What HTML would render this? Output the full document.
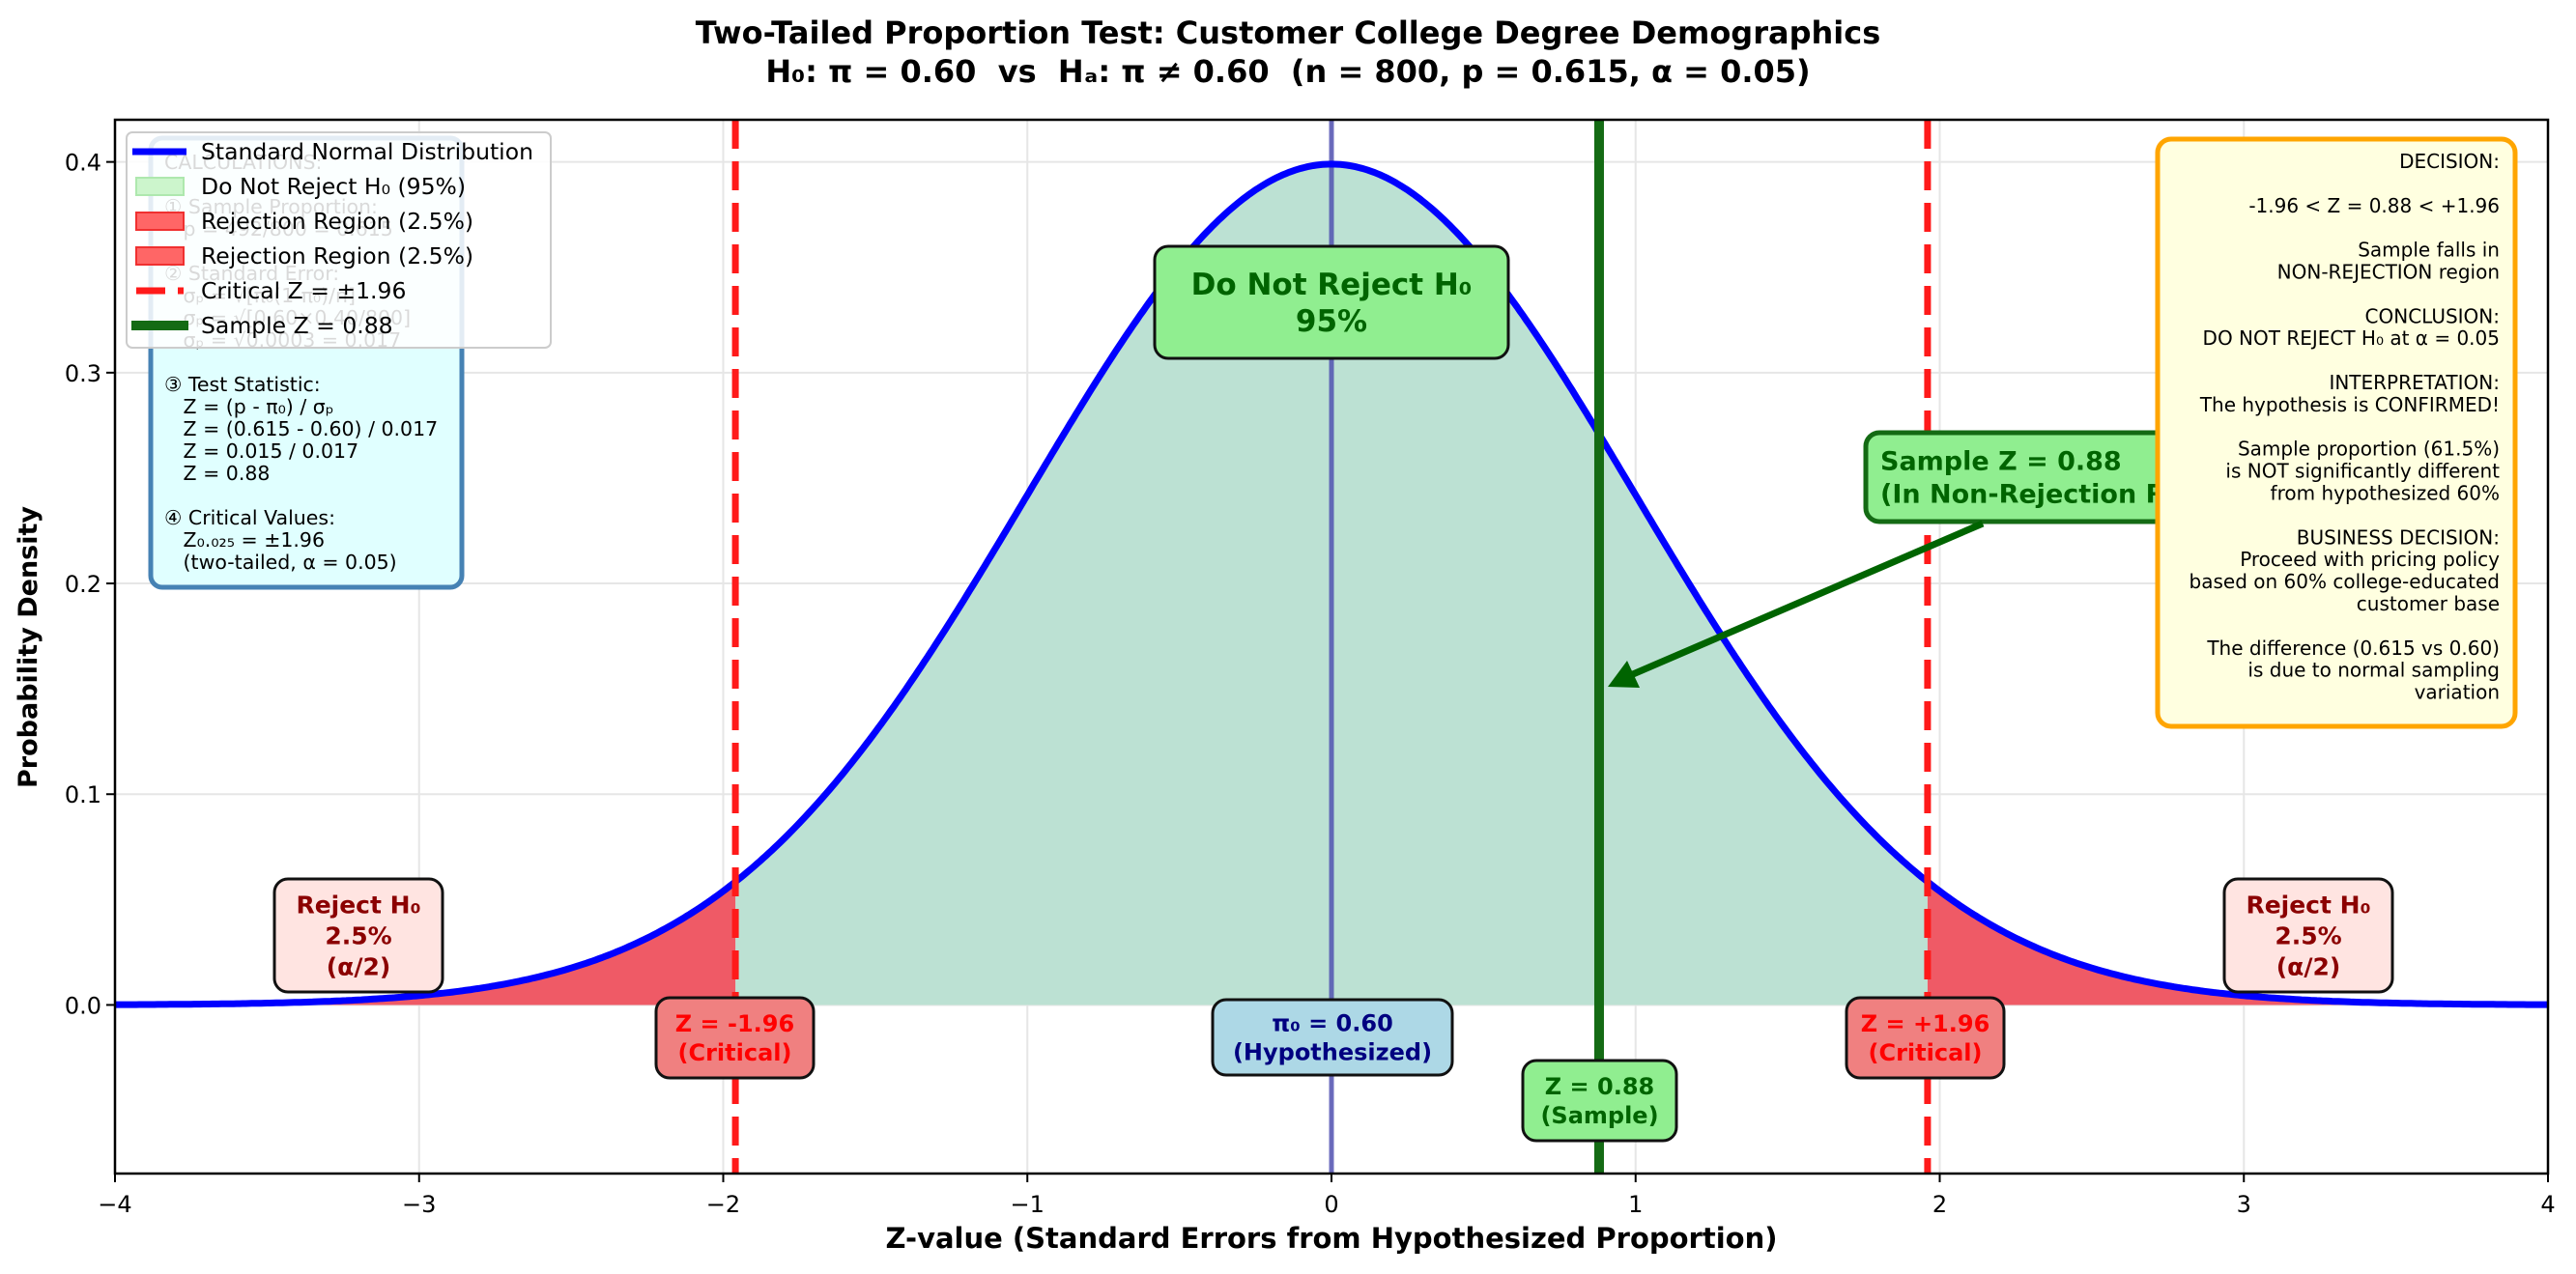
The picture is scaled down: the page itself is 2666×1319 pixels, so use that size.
<!DOCTYPE html>
<html><head><meta charset="utf-8"><style>
html,body{margin:0;padding:0;background:#fff}
svg{display:block}
text{font-family:"DejaVu Sans","Liberation Sans",sans-serif;white-space:pre}
</style></head><body>
<svg id="s" width="2666" height="1319" viewBox="0 0 2666 1319" xmlns="http://www.w3.org/2000/svg" xml:space="preserve">
<rect width="2666" height="1319" fill="#fff"/>
<text x="1333" y="45" text-anchor="middle" font-size="32" font-weight="bold">Two-Tailed Proportion Test: Customer College Degree Demographics</text>
<text x="1333" y="85" text-anchor="middle" font-size="32" font-weight="bold">H₀: π = 0.60  vs  Hₐ: π ≠ 0.60  (n = 800, p = 0.615, α = 0.05)</text>
<g id="grid" stroke="#e6e6e6" stroke-width="2"></g>
<g id="plot"></g>
<g id="axes"></g>
</svg>
<script>
const X0=119,X1=2637,Y0=124,Y1=1215;
const sx=z=>X0+(z+4)*(X1-X0)/8, sy=v=>Y1-(v+0.08)*(Y1-Y0)/0.5;
const pdf=z=>Math.exp(-z*z/2)/Math.sqrt(2*Math.PI);
const ns="http://www.w3.org/2000/svg";
function el(p,t,a,txt){const e=document.createElementNS(ns,t);for(const k in a)e.setAttribute(k,a[k]);if(txt!==undefined)e.textContent=txt;document.getElementById(p).appendChild(e);return e;}
for(let z=-4;z<=4;z++)el('grid','line',{x1:sx(z),x2:sx(z),y1:Y0,y2:Y1});
for(let v=0;v<=0.4001;v+=0.1)el('grid','line',{x1:X0,x2:X1,y1:sy(v),y2:sy(v)});
function area(a,b){let d=`M${sx(a)},${sy(0)}`;for(let i=0;i<=200;i++){const z=a+(b-a)*i/200;d+=` L${sx(z).toFixed(1)},${sy(pdf(z)).toFixed(1)}`;}return d+` L${sx(b)},${sy(0)} Z`;}
el('plot','path',{d:area(-1.96,1.96),fill:'#bce1d3'});
el('plot','path',{d:area(-4,-1.96),fill:'#ef5a66'});
el('plot','path',{d:area(1.96,4),fill:'#ef5a66'});
el('plot','line',{x1:sx(0),x2:sx(0),y1:Y0,y2:Y1,stroke:'#4b4bb0','stroke-width':5,opacity:0.8});
let d='';for(let i=0;i<=800;i++){const z=-4+8*i/800;d+=(i?' L':'M')+sx(z).toFixed(1)+','+sy(pdf(z)).toFixed(1);}
el('plot','path',{d:d,fill:'none',stroke:'#0000ff','stroke-width':7});
[-1.96,1.96].forEach(z=>el('plot','line',{x1:sx(z),x2:sx(z),y1:Y0,y2:Y1,stroke:'#ff1a1a','stroke-width':7,'stroke-dasharray':'30,13'}));
el('plot','line',{x1:sx(0.88),x2:sx(0.88),y1:Y0,y2:Y1,stroke:'#146b14','stroke-width':10});
function box(x,y,w,h,fill,stroke,sw,lines,color,fs,lh,anchor,tx){
 el('plot','rect',{x:x,y:y,width:w,height:h,rx:14,fill:fill,stroke:stroke,'stroke-width':sw});
 const n=lines.length;const start=y+h/2-(n-1)*lh/2+fs*0.36;
 lines.forEach((l,i)=>el('plot','text',{x:tx!==undefined?tx:x+w/2,y:start+i*lh,'text-anchor':anchor||'middle','font-size':fs,'font-weight':'bold',fill:color},l));
}
box(1195,255,366,116,'#90ee90','#111',3,['Do Not Reject H₀','95%'],'#006400',31,38);
box(284,910,174,117,'#ffe4e1','#111',3,['Reject H₀','2.5%','(α/2)'],'#8b0000',25,32);
box(2302,910,174,117,'#ffe4e1','#111',3,['Reject H₀','2.5%','(α/2)'],'#8b0000',25,32);
box(679,1033,163,83,'#f08080','#111',3,['Z = -1.96','(Critical)'],'#ff0000',24,30);
box(1911,1033,163,83,'#f08080','#111',3,['Z = +1.96','(Critical)'],'#ff0000',24,30);
box(1255,1035,248,78,'#add8e6','#111',3,['π₀ = 0.60','(Hypothesized)'],'#000080',24,30);
box(1576,1098,159,83,'#90ee90','#111',3,['Z = 0.88','(Sample)'],'#006400',24,30);
box(1931,448,380,92,'#90ee90','#146b14',5,['Sample Z = 0.88','(In Non-Rejection Region)'],'#006400',27,34,'start',1946);
el('plot','line',{x1:2052,y1:542,x2:1690,y2:698,stroke:'#006400','stroke-width':7});
el('plot','polygon',{points:'1664,711 1684,684 1697,712',fill:'#006400'});
el('plot','rect',{x:156,y:143,width:322,height:465,rx:12,fill:'#e0ffff',stroke:'#4682b4','stroke-width':5});
const cl=['CALCULATIONS:','','① Sample Proportion:','   p = 492/800 = 0.615','','② Standard Error:','   σₚ = √[π₀(1-π₀)/n]','   σₚ = √[0.60×0.40/800]','   σₚ = √0.0003 = 0.017','','③ Test Statistic:','   Z = (p - π₀) / σₚ','   Z = (0.615 - 0.60) / 0.017','   Z = 0.015 / 0.017','   Z = 0.88','','④ Critical Values:','   Z₀.₀₂₅ = ±1.96','   (two-tailed, α = 0.05)'];
cl.forEach((l,i)=>{if(l)el('plot','text',{x:170,y:175+i*23,'font-size':20.5},l);});
el('plot','rect',{x:2233,y:144,width:370,height:608,rx:14,fill:'#ffffe0',stroke:'#ffa500','stroke-width':5});
const yl=['DECISION:','','-1.96 < Z = 0.88 < +1.96','','Sample falls in','NON-REJECTION region','','CONCLUSION:','DO NOT REJECT H₀ at α = 0.05','','INTERPRETATION:','The hypothesis is CONFIRMED!','','Sample proportion (61.5%)','is NOT significantly different','from hypothesized 60%','','BUSINESS DECISION:','Proceed with pricing policy','based on 60% college-educated','customer base','','The difference (0.615 vs 0.60)','is due to normal sampling','variation'];
yl.forEach((l,i)=>{if(l)el('plot','text',{x:2587,y:174+i*22.9,'font-size':20,'text-anchor':'end'},l);});
el('plot','rect',{x:131,y:137,width:439,height:223,rx:6,fill:'rgba(255,255,255,0.85)',stroke:'#ccc','stroke-width':2});
const ly=i=>157+i*36;
el('plot','line',{x1:137,x2:193,y1:ly(0),y2:ly(0),stroke:'#0000ff','stroke-width':7});
el('plot','rect',{x:141,y:ly(1)-9,width:49,height:18,fill:'#ccf5cc',stroke:'#aee8ae','stroke-width':2});
el('plot','rect',{x:141,y:ly(2)-9,width:49,height:18,fill:'#ff6666',stroke:'#f03030','stroke-width':2});
el('plot','rect',{x:141,y:ly(3)-9,width:49,height:18,fill:'#ff6666',stroke:'#f03030','stroke-width':2});
el('plot','line',{x1:141,x2:190,y1:ly(4),y2:ly(4),stroke:'#ff1a1a','stroke-width':7,'stroke-dasharray':'30,13'});
el('plot','line',{x1:136,x2:195,y1:ly(5),y2:ly(5),stroke:'#146b14','stroke-width':10});
['Standard Normal Distribution','Do Not Reject H₀ (95%)','Rejection Region (2.5%)','Rejection Region (2.5%)','Critical Z = ±1.96','Sample Z = 0.88'].forEach((t,i)=>el('plot','text',{x:208,y:ly(i)+8,'font-size':23.5},t));
el('axes','rect',{x:X0,y:Y0,width:X1-X0,height:Y1-Y0,fill:'none',stroke:'#000','stroke-width':2.5});
for(let z=-4;z<=4;z++){el('axes','line',{x1:sx(z),x2:sx(z),y1:Y1,y2:Y1+9,stroke:'#000','stroke-width':2});
 el('axes','text',{x:sx(z),y:1255,'text-anchor':'middle','font-size':24},(z<0?'\u2212':'')+Math.abs(z));}
for(let k=0;k<=4;k++){const v=k/10;el('axes','line',{x1:X0-9,x2:X0,y1:sy(v),y2:sy(v),stroke:'#000','stroke-width':2});
 el('axes','text',{x:X0-14,y:sy(v)+9,'text-anchor':'end','font-size':24},v.toFixed(1));}
el('axes','text',{x:1378,y:1292,'text-anchor':'middle','font-size':29,'font-weight':'bold'},'Z-value (Standard Errors from Hypothesized Proportion)');
el('axes','text',{x:38,y:670,'text-anchor':'middle','font-size':27,'font-weight':'bold',transform:'rotate(-90 38 670)'},'Probability Density');
</script>
</body></html>
